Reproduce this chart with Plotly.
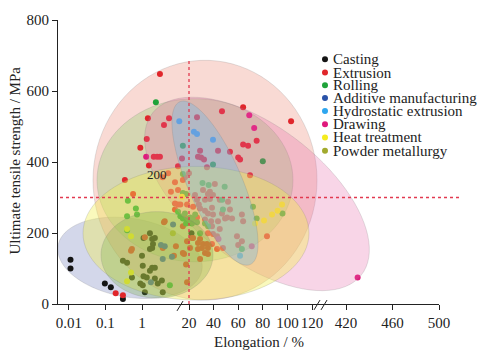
import math
import plotly.graph_objects as go

# ---------------- data (elongation in %, UTS in MPa) ----------------
CATEGORIES = ["Casting", "Extrusion", "Rolling", "Additive manufacturing",
              "Hydrostatic extrusion", "Drawing", "Heat treatment", "Powder metallurgy"]
COLORS = ["#141414", "#e0262b", "#1fa33a", "#2a52a8",
          "#2ea6ef", "#e0187c", "#f5ec1e", "#a2aa2e"]

casting_elong = [0.011, 0.011, 0.096, 0.14, 0.3, 0.3, 0.39, 0.53, 0.9, 1.05, 1.2, 1.1, 1.35, 1.65,
                 1.9, 2.25, 1.9, 2.0, 1.65, 1.0, 1.05, 3.5, 3.7, 2.25, 2.7, 1.1, 1.9, 2.25, 1.65, 22.0]
casting_uts = [125, 100, 58, 47, 14, 122, 116, 75, 58, 53, 33, 78, 75, 94,
               102, 102, 183, 169, 155, 136, 108, 66, 33, 72, 58, 186, 158, 186, 199, 199]

extrusion_elong = [3.1, 46.8, 64, 103, 0.19, 0.3, 75, 1.45, 4.0, 5.5, 1.35, 0.9, 1.55, 2.1, 2.6, 3.1,
                   14.3, 9.7, 26.5, 29, 27.3, 29.8, 32.2, 34.6, 43.6, 53.3, 60, 64, 68, 0.34, 0.57,
                   3.7, 8, 69.6, 16.7, 41, 35.4, 39.5, 33, 37, 24.9, 18.4, 45, 29, 33, 38.7, 51.7,
                   63, 39.5, 26.5, 51, 5.2, 15, 20, 31.4, 37, 26.5, 28, 23.3, 9.7, 8, 35.4, 46.8,
                   49.3, 43.6, 38.7, 35.4, 39.5, 38.7, 35.4, 31.4, 29, 22.4, 15, 4.2, 3.7, 18.4,
                   27.3, 33, 59, 63, 55, 53.3, 61.5, 18.4, 33, 38, 23.3, 20.8, 27.3, 30.6, 34.6,
                   42.8, 45, 16, 29, 35.4, 17.6, 18.4, 60, 64, 83.4, 47.6, 42.8, 0.5, 4.0, 8.5,
                   7.5, 15, 13, 8, 6.2, 9.7, 1.2, 0.53]
extrusion_uts = [648, 543, 554, 515, 30, 25, 460, 523, 504, 523, 465, 440, 390, 415, 415, 415,
                 410, 388, 526, 432, 415, 413, 407, 385, 432, 429, 413, 449, 446, 349, 310,
                 357, 343, 363, 357, 338, 310, 307, 294, 296, 307, 280, 294, 269, 263, 271, 288,
                 252, 252, 244, 244, 368, 349, 368, 321, 316, 294, 280, 274, 280, 266, 255, 255,
                 241, 233, 219, 199, 197, 169, 158, 169, 183, 186, 219, 233, 158, 177,
                 155, 144, 191, 177, 241, 266, 407, 241, 238, 233, 186, 158, 172, 158, 169,
                 191, 211, 141, 127, 141, 111, 61, 166, 233, 191, 158, 155, 150, 230, 163,
                 136, 144, 280, 283, 316, 321, 188, 155]

rolling_elong = [2.4, 15, 15, 39.5, 80, 17.6, 0.41, 0.68, 0.73, 0.39, 0.39, 31, 36, 49, 9.7, 13,
                 15, 16.7, 19, 21, 23, 25, 26.5, 17.6, 22.4, 33, 35.5, 15, 47, 47.6, 29, 72, 75,
                 96, 63, 5.8]
rolling_uts = [568, 446, 366, 393, 402, 310, 291, 269, 252, 247, 208, 341, 335, 330, 260, 247,
               241, 255, 238, 244, 241, 252, 230, 227, 227, 227, 219, 313, 294, 266, 199, 274, 241,
               255, 155, 53]

additive_elong = [3.3, 4.2, 3.7, 6.6, 1.75, 7.1]
additive_uts = [166, 163, 127, 133, 61, 224]

hydro_elong = [10.5, 24, 26.5, 39.5, 61.5]
hydro_uts = [515, 485, 479, 463, 136]

drawing_elong = [69, 73, 1.3, 430, 44, 71]
drawing_uts = [532, 496, 415, 75, 183, 163]

heat_elong = [0.39, 0.5, 0.5, 0.39, 14.3, 95.6, 92, 87.5, 81, 73.7]
heat_uts = [211, 191, 89, 64, 302, 280, 263, 252, 235, 227]

powder_elong = [7.0]
powder_uts = [199]

SERIES = [(casting_elong, casting_uts), (extrusion_elong, extrusion_uts),
          (rolling_elong, rolling_uts), (additive_elong, additive_uts),
          (hydro_elong, hydro_uts), (drawing_elong, drawing_uts),
          (heat_elong, heat_uts), (powder_elong, powder_uts)]

Y_TICKS = [0, 200, 400, 600, 800]
X1_TICKS = [0.01, 0.1, 1]
X1_TEXT = ["0.01", "0.1", "1"]
X2_TICKS = [20, 40, 60, 80, 100, 120]
X3_TICKS = [420, 460, 500]

# ---------------- layout geometry (pixels of the 490x353 canvas) ----------------
W, H = 490, 353
PL, PR, PT, PB = 58, 439, 15, 304
PW, PH = PR - PL, PB - PT
D1 = (180 - PL) / PW
D2 = (322 - PL) / PW


def px(x):
    return (x - PL) / PW


def py(y):
    return (PB - y) / PH


FONT = "Liberation Serif, Times New Roman, Times, DejaVu Serif, serif"
TXT = "#222222"

fig = go.Figure()

for (el, ut), col in zip(SERIES, COLORS):
    segs = {"x": ([], []), "x2": ([], []), "x3": ([], [])}
    for e, u in zip(el, ut):
        key = "x" if e < 11.5 else ("x2" if e < 300 else "x3")
        segs[key][0].append(e)
        segs[key][1].append(u)
    for key, (xs, ys) in segs.items():
        if xs:
            fig.add_trace(go.Scatter(x=xs, y=ys, xaxis=key, yaxis="y", mode="markers",
                                     marker=dict(size=6, color=col, line=dict(width=0)),
                                     cliponaxis=False, showlegend=False, hoverinfo="skip"))

# ---------------- region ellipses (pixel geometry) ----------------
ELLIPSES = [
    # cx, cy, a, b, angle(deg, clockwise), fill, layer
    (130, 257, 73, 40, 10, "rgba(150,160,205,0.42)", "below"),      # casting
    (205, 178, 112, 122, 0, "rgba(235,140,120,0.32)", "below"),     # extrusion
    (195, 178, 98, 83, 0, "rgba(140,205,110,0.33)", "below"),       # rolling
    (257, 192, 133, 68, 38.5, "rgba(228,100,165,0.27)", "above"),   # drawing
    (196, 232, 113, 68, 0, "rgba(242,240,80,0.38)", "above"),       # heat treatment
    (157, 254, 56, 44, 0, "rgba(110,170,60,0.27)", "above"),        # powder metallurgy
    (215, 181, 90, 27, 67, "rgba(110,185,235,0.35)", "above"),      # hydrostatic
]


def ellipse_path(cx, cy, a, b, ang, n=90):
    th = math.radians(ang)
    pts = []
    for k in range(n):
        t = 2 * math.pi * k / n
        x = cx + a * math.cos(t) * math.cos(th) - b * math.sin(t) * math.sin(th)
        y = cy + a * math.cos(t) * math.sin(th) + b * math.sin(t) * math.cos(th)
        pts.append(f"{px(x):.5f},{py(y):.5f}")
    return "M" + " L".join(pts) + " Z"


shapes = []
for cx, cy, a, b, ang, fill, layer in ELLIPSES:
    shapes.append(dict(type="path", xref="paper", yref="paper", path=ellipse_path(cx, cy, a, b, ang),
                       fillcolor=fill, line=dict(color="rgba(120,120,120,0.3)", width=0.7),
                       layer=layer))

# dotted reference lines
shapes.append(dict(type="line", xref="x2", yref="y", x0=20, x1=20, y0=0, y1=690,
                   line=dict(color="#e23a50", width=1.3, dash="dot"), layer="above"))
shapes.append(dict(type="line", xref="paper", yref="y", x0=px(60), x1=px(460), y0=300, y1=300,
                   line=dict(color="#e23a50", width=1.3, dash="dot"), layer="above"))

# axis break marks
for (x0, y0, x1, y1) in [(177, 311, 183, 301), (314, 310, 320, 300), (321, 310, 327, 300)]:
    shapes.append(dict(type="line", xref="paper", yref="paper", x0=px(x0), y0=py(y0),
                       x1=px(x1), y1=py(y1), line=dict(color=TXT, width=1)))

# custom legend
annotations = []
LEG_Y = [55, 68.5, 81.5, 94.5, 107.5, 121, 134.5, 148]
for cat, col, ly in zip(CATEGORIES, COLORS, LEG_Y):
    shapes.append(dict(type="circle", xref="paper", yref="paper", xsizemode="pixel", ysizemode="pixel",
                       xanchor=px(325), yanchor=py(ly), x0=-3, x1=3, y0=-3, y1=3,
                       fillcolor=col, line=dict(width=0)))
    annotations.append(dict(text=cat, x=px(331), y=py(ly), xref="paper", yref="paper",
                            xanchor="left", yanchor="middle", showarrow=False,
                            font=dict(family=FONT, size=15, color=TXT)))

annotations.append(dict(text="Elongation / %", x=px(259), y=py(343), xref="paper", yref="paper",
                        xanchor="center", yanchor="middle", showarrow=False,
                        font=dict(family=FONT, size=15, color=TXT)))
annotations.append(dict(text="Ultimate tensile strength / MPa", x=px(15), y=py(158), xref="paper",
                        yref="paper", xanchor="center", yanchor="middle", textangle=-90,
                        showarrow=False, font=dict(family=FONT, size=15, color=TXT)))
annotations.append(dict(text="200", x=px(157), y=py(172), xref="paper", yref="paper",
                        xanchor="center", yanchor="middle", showarrow=False,
                        font=dict(family=FONT, size=13, color=TXT)))

axis_common = dict(showline=True, linecolor=TXT, linewidth=1.2, ticks="outside", ticklen=5,
                   tickwidth=1.1, tickcolor=TXT, showgrid=False, zeroline=False,
                   tickfont=dict(family=FONT, size=15, color=TXT))

fig.update_layout(
    width=W, height=H,
    margin=dict(l=PL, r=W - PR, t=PT, b=H - PB),
    paper_bgcolor="white", plot_bgcolor="rgba(0,0,0,0)",
    showlegend=False,
    font=dict(family=FONT, color=TXT),
    xaxis=dict(type="log", domain=[0, D1], range=[-2.301, 1.041], tickmode="array",
               tickvals=X1_TICKS, ticktext=X1_TEXT, anchor="y", **axis_common),
    xaxis2=dict(domain=[D1, D2], range=[12.68, 128.13], tickmode="array", tickvals=X2_TICKS,
                anchor="y", **axis_common),
    xaxis3=dict(domain=[D2, 1], range=[399.35, 500], tickmode="array", tickvals=X3_TICKS,
                anchor="y", **axis_common),
    yaxis=dict(range=[0, 800], tickmode="array", tickvals=Y_TICKS, anchor="x", domain=[0, 1],
               **axis_common),
    shapes=shapes,
    annotations=annotations,
)

fig.write_html("out.html")
